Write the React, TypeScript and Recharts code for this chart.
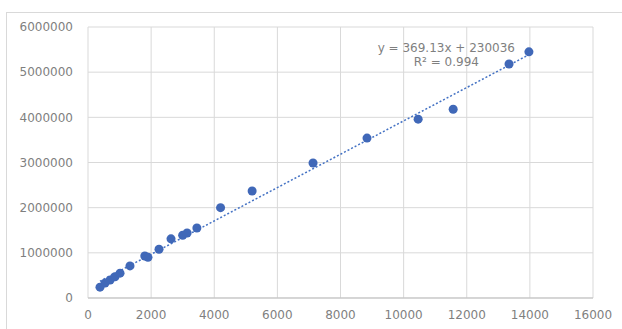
import React from 'react';
import { ScatterChart, Scatter, XAxis, YAxis, ZAxis, CartesianGrid } from 'recharts';

// values
const xValues = [380, 540, 700, 855, 1015, 1330, 1800, 1900, 2250, 2630, 3000, 3140, 3450, 4200, 5200, 7130, 8840, 10460, 11570, 13340, 13970];
const yValues = [240000, 330000, 400000, 470000, 550000, 710000, 930000, 900000, 1080000, 1310000, 1390000, 1440000, 1550000, 2000000, 2370000, 2990000, 3540000, 3960000, 4180000, 5180000, 5450000];

const xTicks = [0, 2000, 4000, 6000, 8000, 10000, 12000, 14000, 16000];
const yTicks = [0, 1000000, 2000000, 3000000, 4000000, 5000000, 6000000];

// linear trendline as printed on the chart
const slope = 369.13;
const intercept = 230036;
const trendLabel = 'y = 369.13x + 230036';
const r2Label = 'R² = 0.994';

const points = xValues.map((x, i) => ({ x, y: yValues[i] }));
const xMin = Math.min(...xValues);
const xMax = Math.max(...xValues);
const trend = [
  { x: xMin, y: slope * xMin + intercept },
  { x: xMax, y: slope * xMax + intercept },
];

const tickStyle = { fill: '#7f7f7f', fontSize: 12, fontFamily: 'DejaVu Sans' };

export default function App() {
  return (
    <div style={{ position: 'fixed', left: 0, top: 0, width: 622, height: 329, overflow: 'hidden', background: '#fff' }}>
      <div
        style={{
          position: 'absolute',
          left: 6,
          top: 12,
          width: 620,
          height: 330,
          borderTop: '1px solid #d9d9d9',
          borderLeft: '1px solid #d9d9d9',
        }}
      />
      <div style={{ position: 'absolute', left: 0, top: 0 }}>
        <ScatterChart width={622} height={329} margin={{ top: 27, right: 29, bottom: 0, left: 0 }}>
          <CartesianGrid stroke="#d9d9d9" strokeWidth={1} />
          <XAxis
            type="number"
            dataKey="x"
            domain={[0, 16000]}
            ticks={xTicks}
            tickLine={false}
            axisLine={{ stroke: '#bfbfbf' }}
            tick={tickStyle}
            tickMargin={6}
            height={31}
          />
          <YAxis
            type="number"
            dataKey="y"
            domain={[0, 6000000]}
            ticks={yTicks}
            tickLine={false}
            axisLine={false}
            tick={tickStyle}
            tickMargin={9}
            width={88}
          />
          <ZAxis range={[50, 50]} />
          <Scatter
            data={trend}
            line={{ stroke: '#4472c4', strokeWidth: 1.5, strokeDasharray: '2 2' }}
            shape={() => <g />}
            isAnimationActive={false}
          />
          <Scatter data={points} fill="#4068b8" isAnimationActive={false} />
        </ScatterChart>
      </div>
      <div
        style={{
          position: 'absolute',
          right: 622 - 515,
          top: 41,
          fontFamily: 'DejaVu Sans',
          fontSize: 12,
          color: '#7f7f7f',
          textAlign: 'center',
          lineHeight: '14px',
          whiteSpace: 'nowrap',
        }}
      >
        <div>{trendLabel}</div>
        <div>{r2Label}</div>
      </div>
    </div>
  );
}
